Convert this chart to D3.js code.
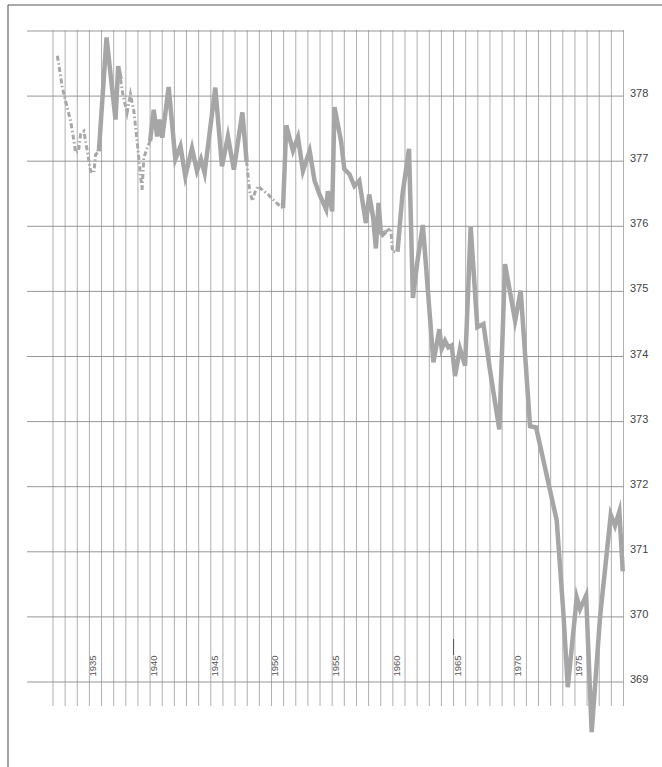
<!DOCTYPE html>
<html>
<head>
<meta charset="utf-8">
<script src="https://cdn.jsdelivr.net/npm/d3@7"></script>
<style>
  body { margin: 0; background: #fff; }
  svg { display: block; }
  .ylab { font-family: "Liberation Sans", Arial, sans-serif; font-size: 11px; fill: #444; }
  .xlab { font-family: "Liberation Sans", Arial, sans-serif; font-size: 9.5px; fill: #555; }
</style>
</head>
<body>
<div id="chart"></div>
<script>
// time (fractional year) and level readings
var t = [
  1932.36, 1932.77, 1933.04, 1933.45, 1933.73, 1933.86, 1934.1, 1934.27, 1934.55, 1934.68,
  1935.1, 1935.37, 1935.5, 1935.78, 1936.41, 1937.15, 1937.37, 1937.56, 1937.75, 1938.1,
  1938.38, 1938.66, 1938.93, 1939.2, 1939.34, 1939.48, 1939.75, 1940.0, 1940.3, 1940.58,
  1940.77, 1941.0, 1941.53, 1942.08, 1942.5, 1942.9, 1943.45, 1943.86, 1944.19, 1944.49,
  1945.37, 1945.92, 1946.41, 1946.9, 1947.6, 1947.95, 1948.08, 1948.22, 1948.44, 1948.63,
  1948.9, 1949.17, 1949.72, 1950.4, 1950.95, 1951.22, 1951.77, 1952.18, 1952.59, 1953.14,
  1953.55, 1953.96, 1954.5, 1954.64, 1955.0, 1955.19, 1955.73, 1956.0, 1956.42, 1956.83,
  1957.23, 1957.78, 1958.05, 1958.38, 1958.6, 1958.82, 1959.01, 1959.15, 1959.42, 1959.83,
  1959.97, 1960.38, 1960.79, 1961.33, 1961.65, 1962.02, 1962.47, 1963.34, 1963.83, 1964.02,
  1964.3, 1964.57, 1964.85, 1965.12, 1965.53, 1965.95, 1966.41, 1966.96, 1967.46, 1968.01,
  1968.77, 1969.24, 1970.07, 1970.53, 1971.3, 1971.8, 1973.5, 1974.05, 1974.41, 1975.15,
  1975.42, 1975.92, 1976.38, 1977.07, 1977.95, 1978.3, 1978.66, 1978.94
];
var v = [
  378.62, 378.13, 377.92, 377.62, 377.31, 377.13, 377.15, 377.41, 377.46, 377.31,
  376.85, 376.82, 377.1, 377.15, 378.9, 377.64, 378.46, 378.26, 378.03, 377.74,
  378.03, 377.77, 377.31, 376.8, 376.56, 377.05, 377.2, 377.31, 377.79, 377.38,
  377.64, 377.36, 378.14, 377.03, 377.23, 376.77, 377.2, 376.85, 377.03, 376.82,
  378.13, 376.92, 377.38, 376.87, 377.75, 377.0, 376.75, 376.52, 376.39, 376.52,
  376.62, 376.57, 376.49, 376.36, 376.28, 377.55, 377.16, 377.37, 376.85, 377.16,
  376.7, 376.49, 376.26, 376.54, 376.23, 377.83, 377.31, 376.88, 376.8, 376.62,
  376.7, 376.05, 376.49, 376.13, 375.66, 376.36, 375.9, 375.87, 375.92, 375.97,
  375.61, 375.61, 376.49, 377.19, 374.9, 375.46, 376.02, 373.91, 374.42, 374.12,
  374.24, 374.14, 374.17, 373.7, 374.12, 373.86, 375.99, 374.45, 374.5, 373.78,
  372.88, 375.42, 374.55, 375.01, 372.93, 372.91, 371.48, 370.05, 368.92, 370.3,
  370.12, 370.33, 368.23, 370.0, 371.57, 371.4, 371.62, 370.7
];
// stretches drawn dash-dotted in the original
var dashedRanges = [[1932.3, 1935.8], [1937.6, 1940.0], [1947.95, 1951.0], [1959.42, 1960.4]];

var yearLines = d3.range(1932, 1980);
var yearLabels = [1935, 1940, 1945, 1950, 1955, 1960, 1965, 1970, 1975];
var levelLines = d3.range(369, 380);
var levelLabels = [369, 370, 371, 372, 373, 374, 375, 376, 377, 378];

var width = 662, height = 767;

var x = d3.scaleLinear().domain([1932, 1979]).range([53, 623.5]);
var y = d3.scaleLinear().domain([369, 379]).range([682, 31]);

var svg = d3.select("#chart").append("svg")
  .attr("width", width)
  .attr("height", height);

// frame
svg.append("line").attr("x1", 8).attr("x2", width).attr("y1", 5).attr("y2", 5)
  .style("stroke", "#555").style("stroke-width", 1.2);
svg.append("line").attr("x1", 8).attr("x2", 8).attr("y1", 5).attr("y2", height)
  .style("stroke", "#666").style("stroke-width", 1.2);

// vertical grid
svg.append("g").selectAll("line")
    .data(yearLines)
  .enter().append("line")
    .attr("x1", x).attr("x2", x)
    .attr("y1", y(379) - 1).attr("y2", 706)
    .style("stroke", "#9a9a9a").style("stroke-width", 0.8);

// horizontal grid
svg.append("g").selectAll("line")
    .data(levelLines)
  .enter().append("line")
    .attr("x1", 27).attr("x2", x(1979))
    .attr("y1", y).attr("y2", y)
    .style("stroke", "#8a8a8a").style("stroke-width", 0.9);

// little darker tick at 1965
svg.append("line")
  .attr("x1", x(1965)).attr("x2", x(1965))
  .attr("y1", 639).attr("y2", 655)
  .style("stroke", "#555").style("stroke-width", 1);

// level labels
svg.append("g").selectAll("text")
    .data(levelLabels)
  .enter().append("text")
    .attr("class", "ylab")
    .attr("x", 630)
    .attr("y", function(d){ return y(d) + 1; })
    .text(function(d){ return d; });

// year labels, rotated
svg.append("g").selectAll("text")
    .data(yearLabels)
  .enter().append("text")
    .attr("class", "xlab")
    .attr("transform", function(d){ return "translate(" + (x(d) + 7) + ",666) rotate(-90)"; })
    .attr("text-anchor", "middle")
    .text(function(d){ return d; });

// split the series into solid and dashed runs
function isDashed(a, b){
  var m = (a + b) / 2;
  for (var i = 0; i < dashedRanges.length; i++)
    if (m >= dashedRanges[i][0] && m <= dashedRanges[i][1]) return true;
  return false;
}

var runs = [];
var cur = null;
for (var i = 0; i < t.length - 1; i++){
  var dashed = isDashed(t[i], t[i+1]);
  if (!cur || cur.dashed !== dashed){
    cur = {dashed: dashed, pts: [[t[i], v[i]]]};
    runs.push(cur);
  }
  cur.pts.push([t[i+1], v[i+1]]);
}

var line = d3.line()
  .x(function(d){ return x(d[0]); })
  .y(function(d){ return y(d[1]); });

svg.append("g").selectAll("path")
    .data(runs)
  .enter().append("path")
    .attr("d", function(d){ return line(d.pts); })
    .style("fill", "none")
    .style("stroke", function(d){ return d.dashed ? "#a8a8a8" : "#a6a6a6"; })
    .style("stroke-width", function(d){ return d.dashed ? 3 : 4.5; })
    .style("stroke-linejoin", "miter")
    .style("stroke-miterlimit", 6)
    .style("stroke-dasharray", function(d){ return d.dashed ? "5,2.5,1.5,2.5" : null; });
</script>
</body>
</html>
